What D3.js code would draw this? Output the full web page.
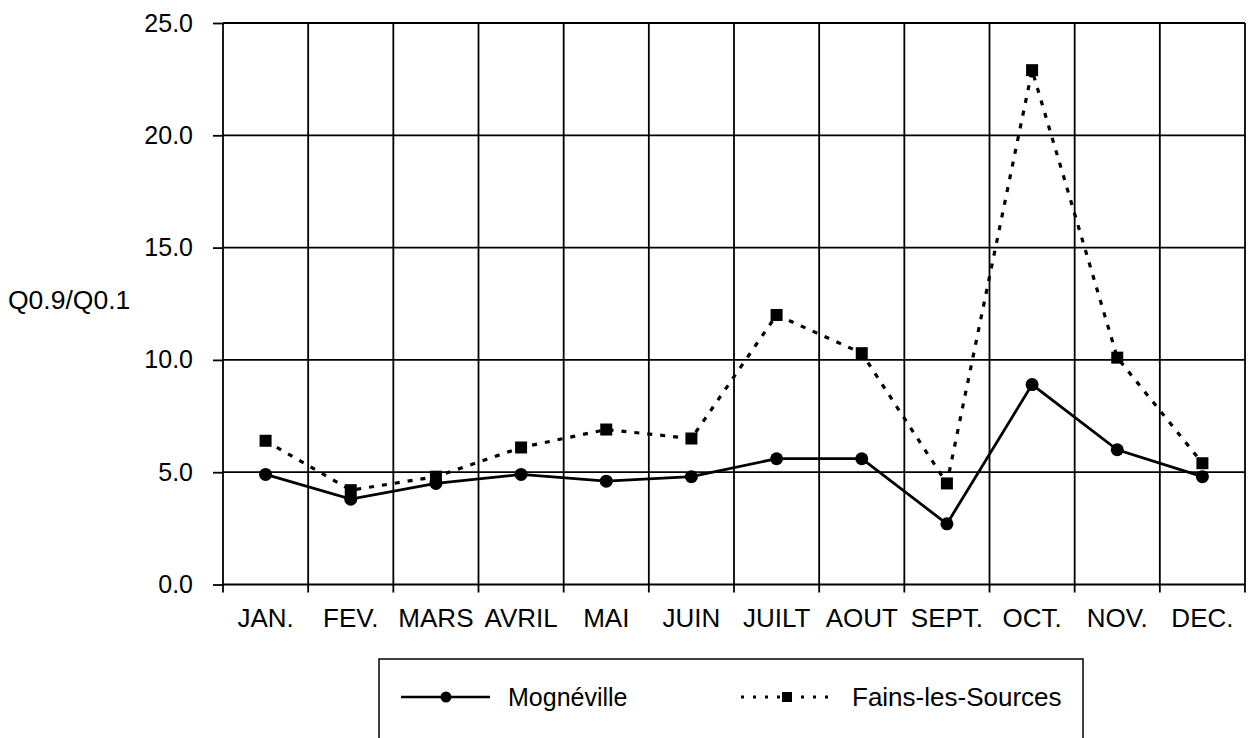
<!DOCTYPE html>
<html>
<head>
<meta charset="utf-8">
<script src="https://cdn.jsdelivr.net/npm/d3@7"></script>
<style>
  html, body { margin: 0; padding: 0; background: #fff; }
  svg { display: block; font-family: "Liberation Sans", Arial, sans-serif; }
</style>
</head>
<body>
<svg id="chart" width="1254" height="738"></svg>
<script>
// Monthly ratio Q0.9/Q0.1 for two stations
const months = ["JAN.", "FEV.", "MARS", "AVRIL", "MAI", "JUIN", "JUILT", "AOUT", "SEPT.", "OCT.", "NOV.", "DEC."];
const mogneville = [4.9, 3.8, 4.5, 4.9, 4.6, 4.8, 5.6, 5.6, 2.7, 8.9, 6.0, 4.8];
const fainsLesSources = [6.4, 4.2, 4.8, 6.1, 6.9, 6.5, 12.0, 10.3, 4.5, 22.9, 10.1, 5.4];
const yTicks = [0, 5, 10, 15, 20, 25];
const seriesNames = ["Mognéville", "Fains-les-Sources"];

const svg = d3.select("#chart");
const plotLeft = 223, plotRight = 1245, plotTop = 23, plotBottom = 584.5;

const x = d3.scaleBand().domain(months).range([plotLeft, plotRight]).padding(0);
const y = d3.scaleLinear().domain([0, 25]).range([plotBottom, plotTop]);

// horizontal gridlines
svg.append("g")
  .selectAll("line")
  .data(yTicks)
  .join("line")
  .attr("x1", plotLeft).attr("x2", plotRight)
  .attr("y1", d => y(d)).attr("y2", d => y(d))
  .attr("stroke", "#000").attr("stroke-width", 1.8);

// vertical gridlines at month boundaries, extending below the axis as ticks
const bounds = months.map(m => x(m)).concat([x.range()[1]]);
svg.append("g")
  .selectAll("line")
  .data(bounds)
  .join("line")
  .attr("x1", d => d).attr("x2", d => d)
  .attr("y1", plotTop).attr("y2", plotBottom + 8)
  .attr("stroke", "#000").attr("stroke-width", 1.8);

// y axis
const yAxis = svg.append("g")
  .attr("transform", `translate(${plotLeft},0)`)
  .call(d3.axisLeft(y).tickValues(yTicks).tickFormat(d3.format(".1f")).tickSize(10).tickPadding(20));
yAxis.select(".domain").remove();
yAxis.selectAll(".tick line").attr("stroke", "#000").attr("stroke-width", 1.8);
yAxis.selectAll(".tick text")
  .attr("font-size", 25).attr("fill", "#000")
  .attr("font-family", "Liberation Sans, Arial, sans-serif");

// x axis labels
const xAxis = svg.append("g")
  .attr("transform", `translate(0,${plotBottom})`)
  .call(d3.axisBottom(x).tickSize(0).tickPadding(24));
xAxis.select(".domain").remove();
xAxis.selectAll(".tick text")
  .attr("font-size", 26).attr("fill", "#000")
  .attr("font-family", "Liberation Sans, Arial, sans-serif");

// y axis title
svg.append("text")
  .attr("x", 8).attr("y", 309)
  .attr("font-size", 26.5).attr("fill", "#000")
  .text("Q0.9/Q0.1");

const cx = m => x(m) + x.bandwidth() / 2;
const line = d3.line().x(d => cx(d.m)).y(d => y(d.v));

const fainsData = months.map((m, i) => ({ m, v: fainsLesSources[i] }));
const mogData = months.map((m, i) => ({ m, v: mogneville[i] }));

// Fains-les-Sources: dotted line with square markers
svg.append("path")
  .datum(fainsData)
  .attr("d", line)
  .attr("fill", "none").attr("stroke", "#000")
  .attr("stroke-width", 3.2).attr("stroke-dasharray", "5 8");
svg.append("g")
  .selectAll("rect")
  .data(fainsData)
  .join("rect")
  .attr("x", d => cx(d.m) - 6).attr("y", d => y(d.v) - 6)
  .attr("width", 12).attr("height", 12)
  .attr("fill", "#000");

// Mognéville: solid line with circle markers
svg.append("path")
  .datum(mogData)
  .attr("d", line)
  .attr("fill", "none").attr("stroke", "#000")
  .attr("stroke-width", 2.8);
svg.append("g")
  .selectAll("circle")
  .data(mogData)
  .join("circle")
  .attr("cx", d => cx(d.m)).attr("cy", d => y(d.v))
  .attr("r", 6.5)
  .attr("fill", "#000");

// legend
const lg = svg.append("g");
lg.append("rect")
  .attr("x", 379).attr("y", 659).attr("width", 704).attr("height", 100)
  .attr("fill", "none").attr("stroke", "#000").attr("stroke-width", 1.5);
const ly = 697;
lg.append("line")
  .attr("x1", 401).attr("x2", 490).attr("y1", ly).attr("y2", ly)
  .attr("stroke", "#000").attr("stroke-width", 2.5);
lg.append("circle").attr("cx", 446).attr("cy", ly).attr("r", 5.5).attr("fill", "#000");
lg.append("text").attr("x", 508).attr("y", ly + 9)
  .attr("font-size", 25).attr("fill", "#000").text(seriesNames[0]);
lg.append("line")
  .attr("x1", 741).attr("x2", 836).attr("y1", ly).attr("y2", ly)
  .attr("stroke", "#000").attr("stroke-width", 3).attr("stroke-dasharray", "3 9");
lg.append("rect").attr("x", 782).attr("y", ly - 5).attr("width", 10).attr("height", 10).attr("fill", "#000");
lg.append("text").attr("x", 852).attr("y", ly + 9)
  .attr("font-size", 26).attr("fill", "#000").text(seriesNames[1]);
</script>
</body>
</html>
